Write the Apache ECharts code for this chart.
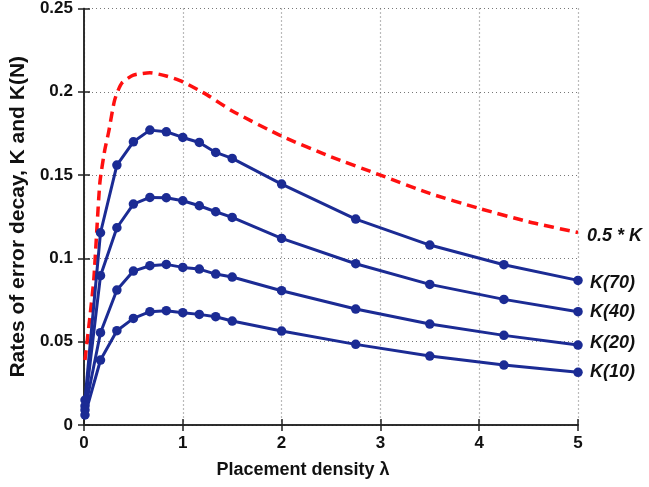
<!DOCTYPE html>
<html>
<head>
<meta charset="utf-8">
<script src="https://cdn.jsdelivr.net/npm/echarts@6/dist/echarts.min.js"></script>
<style>html,body{margin:0;padding:0;background:#fff;}#c{width:649px;height:487px;}</style>
</head>
<body>
<div id="c"></div>
<script>
const xK = [0.01, 0.167, 0.333, 0.5, 0.667, 0.833, 1.0, 1.167, 1.333, 1.5, 2, 2.75, 3.5, 4.25, 5];
const K70 = [0.015, 0.1154, 0.156, 0.170, 0.177, 0.176, 0.1726, 0.1696, 0.1636, 0.160, 0.1446, 0.1236, 0.108, 0.0962, 0.0868];
const K40 = [0.0114, 0.0896, 0.1184, 0.1326, 0.1366, 0.1364, 0.1346, 0.1316, 0.128, 0.1246, 0.112, 0.0968, 0.0844, 0.0754, 0.068];
const K20 = [0.009, 0.0554, 0.081, 0.0924, 0.0956, 0.0964, 0.0946, 0.0936, 0.0906, 0.0888, 0.0806, 0.0696, 0.0606, 0.0538, 0.048];
const K10 = [0.006, 0.039, 0.0566, 0.064, 0.068, 0.0686, 0.0674, 0.0664, 0.065, 0.0624, 0.0564, 0.0484, 0.0414, 0.036, 0.0316];
const xHalf = [0.01, 0.06, 0.1, 0.16, 0.21, 0.25, 0.31, 0.38, 0.5, 0.667, 0.833, 1.0, 1.25, 1.5, 2, 2.5, 3, 3.5, 4, 4.5, 5];
const halfK = [0.039, 0.065, 0.088, 0.145, 0.165, 0.176, 0.195, 0.205, 0.21, 0.2114, 0.2095, 0.206, 0.198, 0.1885, 0.1734, 0.161, 0.150, 0.139, 0.130, 0.122, 0.1155];
const seriesNames = ['K(70)', 'K(40)', 'K(20)', 'K(10)'];
const halfName = '0.5 * K';
const xTitle = 'Placement density \u03bb';
const yTitle = 'Rates of error decay, K and K(N)';

const FONT = 'Arial, "Liberation Sans", sans-serif';
const BLUE = '#1b2b94';
const AX = '#222';
const zip = (xs, ys) => xs.map((x, i) => [x, ys[i]]);

const chart = echarts.init(document.getElementById('c'));
const axisCommon = {
  type: 'value',
  axisLine: { show: true, lineStyle: { color: AX, width: 1.5 } },
  axisTick: { show: true, inside: true, length: 6, lineStyle: { color: AX, width: 1.5 } },
  splitLine: { show: false }
};
const blueSeries = [K70, K40, K20, K10].map((d, i) => ({
  name: seriesNames[i],
  type: 'line',
  data: zip(xK, d),
  symbol: 'circle',
  symbolSize: 9.5,
  color: BLUE,
  lineStyle: { color: BLUE, width: 3 },
  itemStyle: { color: BLUE },
  clip: false,
  endLabel: {
    show: true,
    formatter: seriesNames[i],
    fontFamily: FONT, fontStyle: 'italic', fontWeight: 'bold', fontSize: 18, color: '#111',
    distance: 12,
    offset: [[0, 3], [0, 0], [0, -2], [0, 0]][i]
  }
}));

chart.setOption({
  animation: false,
  backgroundColor: '#fff',
  grid: { left: 84, right: 71, top: 8, bottom: 62 },
  xAxis: [
    Object.assign({}, axisCommon, {
      min: 0, max: 5, interval: 1, position: 'bottom',
      axisLabel: { fontFamily: FONT, fontWeight: 'bold', fontSize: 17, color: '#111', margin: 10 },
      splitLine: { show: true, lineStyle: { color: '#777', type: [1, 3], width: 1.2 } },
      name: xTitle, nameLocation: 'middle', nameGap: 36,
      nameTextStyle: { fontFamily: FONT, fontWeight: 'bold', fontSize: 18, color: '#111', padding: [0, 56, 0, 0] }
    }),
    Object.assign({}, axisCommon, {
      min: 0, max: 5, interval: 1, position: 'top', axisLabel: { show: false }
    })
  ],
  yAxis: [
    Object.assign({}, axisCommon, {
      min: 0, max: 0.25, interval: 0.05, position: 'left',
      axisLabel: { fontFamily: FONT, fontWeight: 'bold', fontSize: 17, color: '#111', margin: 11 },
      splitLine: { show: true, lineStyle: { color: '#777', type: [1, 3], width: 1.2 } },
      name: yTitle, nameLocation: 'middle', nameGap: 54,
      nameTextStyle: { fontFamily: FONT, fontWeight: 'bold', fontSize: 21, color: '#111' }
    }),
    Object.assign({}, axisCommon, {
      min: 0, max: 0.25, interval: 0.05, position: 'right', axisLabel: { show: false }
    })
  ],
  series: [
    {
      name: halfName,
      type: 'line',
      data: zip(xHalf, halfK),
      smooth: 0.2,
      showSymbol: false,
      symbol: 'none',
      color: '#ff1010',
      lineStyle: { color: '#ff1010', width: 3.5, type: [10, 6] },
      clip: false,
      endLabel: {
        show: true, formatter: halfName,
        fontFamily: FONT, fontStyle: 'italic', fontWeight: 'bold', fontSize: 18, color: '#111',
        distance: 9, offset: [0, 3]
      }
    }
  ].concat(blueSeries)
});
</script>
</body>
</html>
